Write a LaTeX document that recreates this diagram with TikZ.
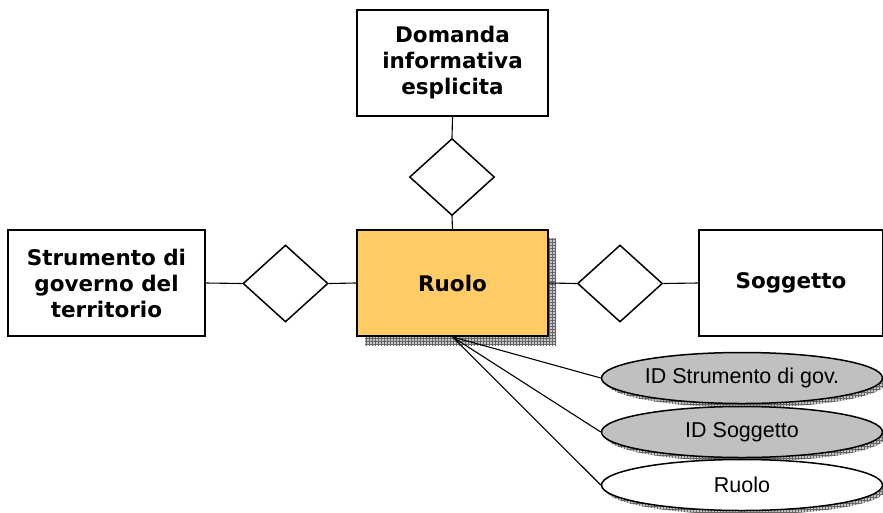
\documentclass[tikz,border=0pt]{standalone}
\usepackage{fontspec}
\setmainfont{DejaVu Sans}
\newfontfamily\labelfont{Liberation Sans}
\usetikzlibrary{shapes.geometric,patterns}
\definecolor{ruolofill}{RGB}{255,204,102}
\definecolor{attrgray}{RGB}{192,192,192}
\tikzset{
  x=1pt, y=-1pt,
  entity/.style={draw, line width=1.9pt, fill=white, minimum width=197pt, minimum height=106pt,
    align=center, font=\fontsize{21.5}{26}\selectfont\bfseries, inner sep=0pt},
  relation/.style={draw, diamond, line width=1.5pt, fill=white, minimum width=85pt, minimum height=77pt,
    inner sep=0pt, aspect=1.1},
  attribute/.style={draw, ellipse, line width=1.5pt, minimum width=281pt, minimum height=51pt,
    font=\labelfont\fontsize{21.5}{24}\selectfont, inner sep=0pt},
  link/.style={line width=1.1pt},
}
\begin{document}
\begin{tikzpicture}
\useasboundingbox (0,0) rectangle (883,512);

% drop shadows
\fill[gray!45] (365,238) rectangle (556,345);
\fill[pattern=grid, pattern color=gray!80!black] (365,238) rectangle (556,345);
\foreach \cy in {382,436,489}{
  \fill[gray!45] (746,\cy) ellipse (140.5pt and 25.5pt);
  \fill[pattern=grid, pattern color=gray!80!black] (746,\cy) ellipse (140.5pt and 25.5pt);
}

% entities
\node[entity, minimum width=191pt] (dom) at (452.5,63) {Domanda\\informativa\\esplicita};
\node[entity, minimum width=191pt, fill=ruolofill] (ruolo) at (452.5,283) {Ruolo};
\node[entity] (strum) at (106.5,283) {Strumento di\\governo del\\territorio};
\node[entity, minimum width=184pt] (sogg) at (791,283) {Soggetto};

% relationships
\node[relation] (rtop) at (452,177) {};
\node[relation] (rleft) at (285.5,283.5) {};
\node[relation] (rright) at (620,283.5) {};

% attributes
\node[attribute, fill=attrgray] (a1) at (742,378) {ID Strumento di gov.};
\node[attribute, fill=attrgray] (a2) at (742,432) {ID Soggetto};
\node[attribute, fill=white] (a3) at (742,485) {Ruolo};

% connectors
\draw[link] (dom.south) -- (rtop.north);
\draw[link] (rtop.south) -- (ruolo.north);
\draw[link] (strum.east) -- (rleft.west);
\draw[link] (rleft.east) -- (ruolo.west);
\draw[link] (ruolo.east) -- (rright.west);
\draw[link] (rright.east) -- (sogg.west);
\draw[link] (ruolo.south) -- (a1.west);
\draw[link] (ruolo.south) -- (a2.west);
\draw[link] (ruolo.south) -- (a3.west);
\end{tikzpicture}
\end{document}
